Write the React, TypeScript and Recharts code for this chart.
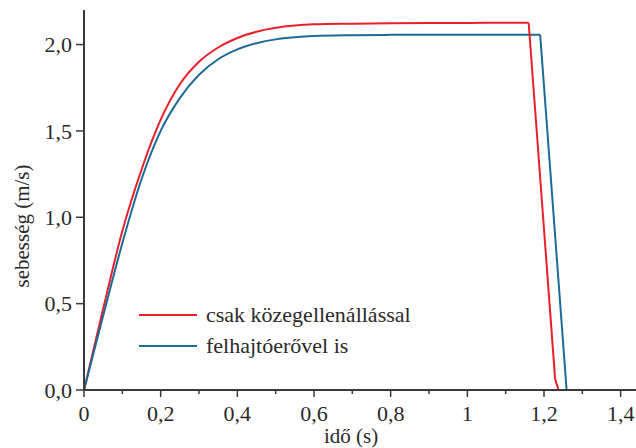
import { LineChart, Line, XAxis, YAxis, Legend } from 'recharts'

// time (s) and speed (m/s)
const RED_T = [0, 0.05, 0.1, 0.15, 0.2, 0.25, 0.3, 0.35, 0.4, 0.45, 0.5, 0.55, 0.6, 0.7, 0.8, 0.9, 1.0, 1.1, 1.16]
const RED_V = [0, 0.47, 0.92, 1.275, 1.565, 1.77, 1.9, 1.983, 2.038, 2.074, 2.097, 2.11, 2.117, 2.121, 2.124, 2.125, 2.125, 2.126, 2.126]
const RED_FALL_T = [1.16, 1.229, 1.238]
const RED_FALL_V = [2.126, 0.064, 0]

const BLUE_T = [0, 0.05, 0.1, 0.15, 0.2, 0.25, 0.3, 0.35, 0.4, 0.45, 0.5, 0.55, 0.6, 0.7, 0.8, 0.9, 1.0, 1.1, 1.19]
const BLUE_V = [0, 0.43, 0.85, 1.22, 1.5, 1.69, 1.825, 1.915, 1.972, 2.008, 2.03, 2.042, 2.049, 2.054, 2.056, 2.057, 2.057, 2.057, 2.057]
const BLUE_FALL_T = [1.19, 1.259]
const BLUE_FALL_V = [2.057, 0]

const X_TICKS = [0, 0.1, 0.2, 0.3, 0.4, 0.5, 0.6, 0.7, 0.8, 0.9, 1, 1.1, 1.2, 1.3, 1.4]
const Y_TICKS = [0, 0.5, 1, 1.5, 2]

const SERIES_NAMES = ['csak közegellenállással', 'felhajtóerővel is']

const FONT = 'Liberation Serif, DejaVu Serif, Noto Serif, Times New Roman, Tinos, FreeSerif, serif'
const AXIS = '#3a3a3a'
const TEXT = '#2a2a2a'
const RED = '#e8202a'
const BLUE = '#1b6a97'
const FS = 22

const zip = (ts: number[], vs: number[]) => ts.map((t, i) => ({ t, v: vs[i] }))

const redRise = zip(RED_T, RED_V)
const redFall = zip(RED_FALL_T, RED_FALL_V)
const blueRise = zip(BLUE_T, BLUE_V)
const blueFall = zip(BLUE_FALL_T, BLUE_FALL_V)

function XTick(props: any) {
  const { x, y, payload } = props
  const v = payload.value as number
  const major = Math.round(v * 10) % 2 === 0
  if (!major) return null
  const label = String(+v.toFixed(1)).replace('.', ',')
  return (
    <g>
      <line x1={x} x2={x} y1={y} y2={y + 3} stroke={AXIS} strokeWidth={1.5} />
      <text x={x} y={y + 27} textAnchor="middle" style={{ fontFamily: FONT }} fontSize={FS} fill={TEXT}>
        {label}
      </text>
    </g>
  )
}

function LegendBox(props: any) {
  const items = (props.payload || []).filter((p: any) => p.type !== 'none' && p.value)
  return (
    <div style={{ fontFamily: FONT, fontSize: FS, color: TEXT, lineHeight: '31px' }}>
      {items.map((p: any) => (
        <div key={p.value} style={{ display: 'flex', alignItems: 'center', height: 31, whiteSpace: 'nowrap' }}>
          <span style={{ display: 'inline-block', width: 58, height: 2, background: p.color, marginRight: 9 }} />
          <span>{p.value}</span>
        </div>
      ))}
    </div>
  )
}

export default function App() {
  return (
    <>
      <style>{'body{margin:0}'}</style>
      <LineChart width={636} height={448} margin={{ top: 10, right: 0, bottom: 0, left: 0 }}>
        <XAxis
          type="number"
          dataKey="t"
          height={58}
          domain={[0, 1.44]}
          ticks={X_TICKS}
          interval={0}
          stroke={AXIS}
          strokeWidth={2}
          tickSize={4}
          tickMargin={0}
          tickLine={{ stroke: AXIS, strokeWidth: 1.5 }}
          tick={<XTick />}
          label={{
            content: (p: any) => {
              const vb = p.viewBox || { x: 84, y: 390, width: 552 }
              return (
                <text
                  x={vb.x + vb.width / 2 - 9}
                  y={vb.y + 53}
                  textAnchor="middle"
                  style={{ fontFamily: FONT }}
                  fontSize={21}
                  fill={TEXT}
                >
                  idő (s)
                </text>
              )
            },
          }}
        />
        <YAxis
          type="number"
          dataKey="v"
          width={84}
          domain={[0, 2.2]}
          ticks={Y_TICKS}
          interval={0}
          stroke={AXIS}
          strokeWidth={2}
          tickSize={8}
          tickMargin={4}
          tickLine={{ stroke: AXIS, strokeWidth: 1.5 }}
          tick={{ fontSize: FS, fill: TEXT, style: { fontFamily: FONT } }}
          tickFormatter={(v: number) => v.toFixed(1).replace('.', ',')}
          label={{
            content: (p: any) => {
              const vb = p.viewBox || { x: 0, y: 10, height: 380 }
              const cx = 29
              const cy = vb.y + vb.height / 2 + 26
              return (
                <text
                  x={cx}
                  y={cy}
                  transform={`rotate(-90 ${cx} ${cy})`}
                  textAnchor="middle"
                  style={{ fontFamily: FONT }}
                  fontSize={21}
                  fill={TEXT}
                >
                  sebesség (m/s)
                </text>
              )
            },
          }}
        />
        <Legend
          layout="vertical"
          align="center"
          verticalAlign="middle"
          content={<LegendBox />}
          wrapperStyle={{ left: 139, top: 299, width: 'auto' }}
        />
        <Line data={redRise} dataKey="v" name={SERIES_NAMES[0]} type="monotone" stroke={RED} strokeWidth={2} dot={false} isAnimationActive={false} />
        <Line data={blueRise} dataKey="v" name={SERIES_NAMES[1]} type="monotone" stroke={BLUE} strokeWidth={2} dot={false} isAnimationActive={false} />
        <Line data={redFall} dataKey="v" legendType="none" type="linear" stroke={RED} strokeWidth={2} dot={false} isAnimationActive={false} />
        <Line data={blueFall} dataKey="v" legendType="none" type="linear" stroke={BLUE} strokeWidth={2} dot={false} isAnimationActive={false} />
      </LineChart>
    </>
  )
}
